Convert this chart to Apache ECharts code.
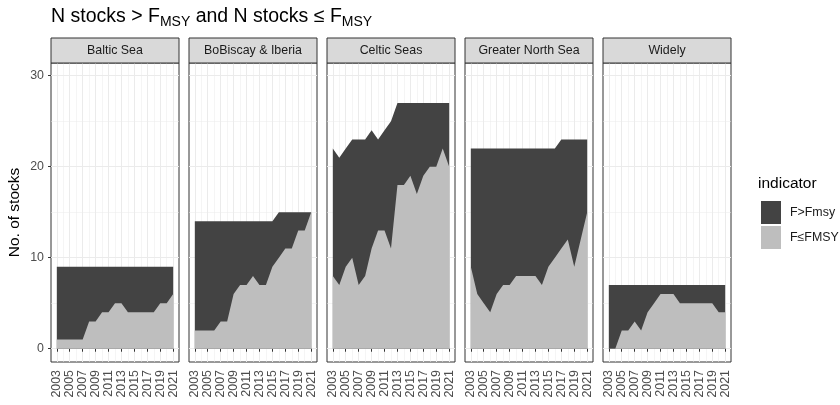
<!DOCTYPE html>
<html><head><meta charset="utf-8">
<script src="https://cdn.jsdelivr.net/npm/echarts@6/dist/echarts.min.js"></script>
<style>html,body{margin:0;padding:0;background:#fff}#c{width:840px;height:405px}</style>
</head><body><div id="c"></div>
<script>
// ---- data ----
const years = [2003,2004,2005,2006,2007,2008,2009,2010,2011,2012,2013,2014,2015,2016,2017,2018,2019,2020,2021];
const regions = ['Baltic Sea','BoBiscay & Iberia','Celtic Seas','Greater North Sea','Widely'];
const indicatorNames = ['F>Fmsy','F\u2264FMSY'];
// number of stocks with F <= FMSY
const balticBelow   = [1,1,1,1,1,3,3,4,4,5,5,4,4,4,4,4,5,5,6];
const biscayBelow   = [2,2,2,2,3,3,6,7,7,8,7,7,9,10,11,11,13,13,15];
const celticBelow   = [8,7,9,10,7,8,11,13,13,11,18,18,19,17,19,20,20,22,20];
const northSeaBelow = [9,6,5,4,6,7,7,8,8,8,8,7,9,10,11,12,9,12,15];
const widelyBelow   = [0,0,2,2,3,2,4,5,6,6,6,5,5,5,5,5,5,4,4];
// number of stocks with F > FMSY
const balticAbove   = [8,8,8,8,8,6,6,5,5,4,4,5,5,5,5,5,4,4,3];
const biscayAbove   = [12,12,12,12,11,11,8,7,7,6,7,7,5,5,4,4,2,2,0];
const celticAbove   = [14,14,13,13,16,15,13,10,11,14,9,9,8,10,8,7,7,5,7];
const northSeaAbove = [13,16,17,18,16,15,15,14,14,14,14,15,13,12,12,11,14,11,8];
const widelyAbove   = [7,7,5,5,4,5,3,2,1,1,1,2,2,2,2,2,2,3,3];
// ticks
const xTickLabels = [2003,2005,2007,2009,2011,2013,2015,2017,2019,2021];
const xMinorTicks = [2004,2006,2008,2010,2012,2014,2016,2018,2020];
const yTickLabels = [0,10,20,30];
const yMinorTicks = [5,15,25];

const belowList = [balticBelow, biscayBelow, celticBelow, northSeaBelow, widelyBelow];
const aboveList = [balticAbove, biscayAbove, celticAbove, northSeaAbove, widelyAbove];

// ---- layout ----
const FONT = '"Liberation Sans", Arial, sans-serif';
const DARK = '#434343', LIGHT = '#BEBEBE';
const panelLeft0 = 51, panelStep = 138, panelW = 128, panelTop = 63, panelH = 299;
const stripTop = 38, stripH = 25;

const grids = [], xAxes = [], yAxes = [], series = [], graphics = [];
regions.forEach((reg, i) => {
  const left = panelLeft0 + i * panelStep;
  grids.push({left: left, top: panelTop, width: panelW, height: panelH, show: true,
    backgroundColor: '#fff', borderColor: '#333333', borderWidth: 1, containLabel: false});
  xAxes.push({type: 'value', gridIndex: i, min: 2002.1, max: 2021.9, position: 'bottom',
    axisLine: {show: false},
    axisTick: {show: true, length: 3, lineStyle: {color: '#333333'}, customValues: xTickLabels},
    axisLabel: {show: true, customValues: xTickLabels, rotate: 90, margin: 8, fontSize: 12.4,
      color: '#4D4D4D', fontFamily: FONT, formatter: v => String(v)},
    splitLine: {show: true, lineStyle: {color: '#EBEBEB', width: 1}}});
  xAxes.push({type: 'value', gridIndex: i, min: 2002.1, max: 2021.9, position: 'top',
    axisLine: {show: false}, axisTick: {show: false, customValues: xMinorTicks},
    axisLabel: {show: false}, splitLine: {show: true, lineStyle: {color: '#EBEBEB', width: 0.5}}});
  yAxes.push({type: 'value', gridIndex: i, min: -1.46, max: 31.4, position: 'left',
    axisLine: {show: false},
    axisTick: {show: i === 0, length: 3, lineStyle: {color: '#333333'}, customValues: yTickLabels},
    axisLabel: {show: i === 0, customValues: yTickLabels, margin: 7, fontSize: 12.4,
      color: '#4D4D4D', fontFamily: FONT},
    splitLine: {show: true, lineStyle: {color: '#EBEBEB', width: 1}}});
  yAxes.push({type: 'value', gridIndex: i, min: -1.46, max: 31.4, position: 'right',
    axisLine: {show: false}, axisTick: {show: false, customValues: yMinorTicks},
    axisLabel: {show: false}, splitLine: {show: true, lineStyle: {color: '#EBEBEB', width: 0.5}}});
  // stacked areas: the upper layer is drawn up to the stack top (below + above),
  // then the lower layer is drawn over it
  const stackTop = belowList[i].map((b, k) => b + aboveList[i][k]);
  series.push({type: 'line', name: indicatorNames[0], xAxisIndex: 2 * i, yAxisIndex: 2 * i,
    symbol: 'none', showSymbol: false, silent: true, z: 2,
    lineStyle: {width: 0, color: DARK}, itemStyle: {color: DARK},
    areaStyle: {color: DARK, opacity: 1, origin: 0},
    data: years.map((y, k) => [y, stackTop[k]])});
  series.push({type: 'line', name: indicatorNames[1], xAxisIndex: 2 * i, yAxisIndex: 2 * i,
    symbol: 'none', showSymbol: false, silent: true, z: 3,
    lineStyle: {width: 0, color: LIGHT}, itemStyle: {color: LIGHT},
    areaStyle: {color: LIGHT, opacity: 1, origin: 0},
    data: years.map((y, k) => [y, belowList[i][k]])});
  graphics.push({type: 'rect', shape: {x: left, y: stripTop, width: panelW, height: stripH},
    style: {fill: '#D9D9D9', stroke: '#333333', lineWidth: 1}, z: 10});
  graphics.push({type: 'text', x: left + panelW / 2, y: stripTop + stripH / 2, z: 11,
    style: {text: reg, fontSize: 12.4, fontFamily: FONT, fill: '#1A1A1A',
      align: 'center', verticalAlign: 'middle'}});
});

graphics.push({type: 'text', x: 15, y: 212.5, rotation: Math.PI / 2,
  style: {text: 'No. of stocks', fontSize: 15.5, fontFamily: FONT, fill: '#000',
    align: 'center', verticalAlign: 'middle'}});
graphics.push({type: 'text', x: 758, y: 184,
  style: {text: 'indicator', fontSize: 15.5, fontFamily: FONT, fill: '#000',
    align: 'left', verticalAlign: 'middle'}});

const chart = echarts.init(document.getElementById('c'), null, {renderer: 'canvas'});
chart.setOption({
  animation: false,
  backgroundColor: '#fff',
  title: {
    left: 51, top: 5, padding: 0,
    text: '{a|N stocks > F}{s|MSY}{a| and N stocks \u2264 F}{s|MSY}',
    textStyle: {fontWeight: 'normal', rich: {
      a: {fontSize: 19.5, fontFamily: FONT, fontWeight: 'normal', color: '#000', lineHeight: 24, verticalAlign: 'middle'},
      s: {fontSize: 14, fontFamily: FONT, fontWeight: 'normal', color: '#000', lineHeight: 13, verticalAlign: 'bottom'}
    }}
  },
  legend: {
    data: indicatorNames, orient: 'vertical', left: 761, top: 201, padding: 0,
    icon: 'rect', itemWidth: 20, itemHeight: 23, itemGap: 2,
    itemStyle: {borderWidth: 0},
    textStyle: {fontSize: 12.4, fontFamily: FONT, color: '#1A1A1A', padding: [0, 0, 0, 4]},
    selectedMode: false
  },
  grid: grids, xAxis: xAxes, yAxis: yAxes, series: series, graphic: graphics
});
</script></body></html>
